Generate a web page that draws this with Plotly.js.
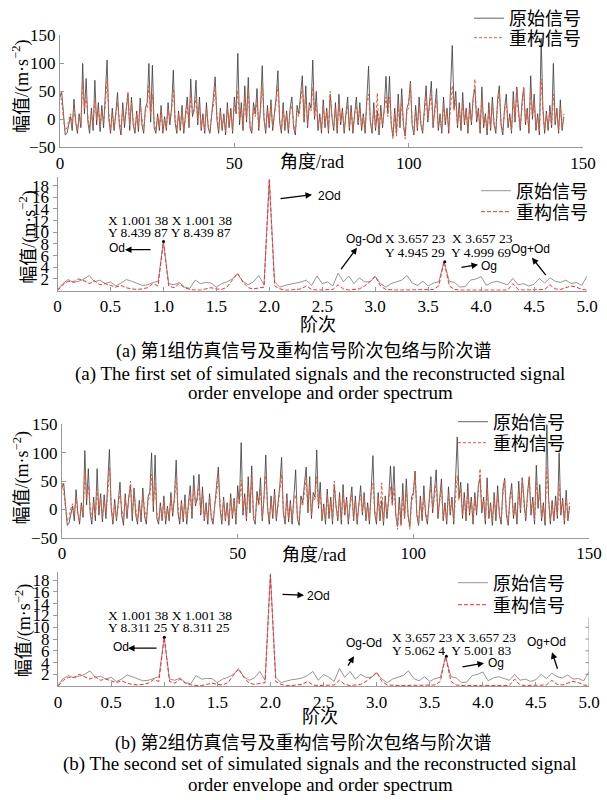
<!DOCTYPE html>
<html><head><meta charset="utf-8">
<script src="https://cdn.plot.ly/plotly-3.0.1.min.js"></script>
<style>html,body{margin:0;padding:0;background:#fff}</style>
</head><body>
<div id="chart" style="width:607px;height:800px"></div>
<script>
// ---------------- DATA ----------------
const angleStep = 0.5;   // rad between samples
const orderStep = 0.05;  // order resolution

const timeTicks = [0, 50, 100, 150];
const ampTicks = [-50, 0, 50, 100, 150];
const orderTickVals = [0, 0.5, 1, 1.5, 2, 2.5, 3, 3.5, 4, 4.5, 5];
const orderTickText = ['0', '0.5', '1.0', '1.5', '2.0', '2.5', '3.0', '3.5', '4.0', '4.5', '5.0'];
const specTicks = [2, 4, 6, 8, 10, 12, 14, 16, 18];

const seriesNames = ['原始信号', '重构信号'];

// set 1 - order envelope (original)
const origEnv1 = [
40,48,10,-28,-25,-10,5,-20,36,-5,
-25,10,-15,100,10,73,-5,-25,20,-20,
70,-10,30,-22,25,-15,40,106,0,-25,
20,-20,10,48,-10,-28,30,-15,20,45,
-20,40,-10,-25,15,-22,38,-10,-25,20,
30,100,-5,97,-15,-25,10,-20,25,-25,
5,-20,30,-10,20,88,-5,-25,15,-20,
25,-25,10,40,-15,72,5,20,70,-10,
40,-20,10,-25,30,-15,-25,15,40,76,
0,-25,20,-20,10,-28,30,-15,20,-25,
40,10,118,-10,30,-20,60,-5,75,-15,
-25,30,10,55,-20,20,96,0,-25,25,
-15,35,-20,10,40,87,-5,-25,30,-20,
15,-25,20,40,-15,-28,25,10,45,78,
-5,60,-15,30,20,106,0,50,-20,10,
-25,35,-15,20,-25,45,5,-20,30,-25,
45,-10,20,-25,10,40,-20,25,-25,15,
40,-10,30,-20,10,-25,50,95,-5,-25,
30,-20,15,-28,25,-15,20,77,10,77,
-10,-30,20,-25,45,-15,55,-10,-30,20,
30,68,-10,-28,25,-20,40,-10,-25,20,
60,-5,30,68,-15,20,55,-20,10,-25,
40,-10,20,-25,45,132,20,50,-15,30,
-20,48,-10,20,-25,30,-10,40,55,-5,
20,-25,58,-15,10,-28,30,-20,40,-10,
-25,35,60,-10,-28,20,45,-15,10,-25,
50,-5,58,10,-20,30,57,-10,20,-25,
78,0,45,-20,10,-28,145,20,-25,15,
-20,25,-15,100,-10,20,-25,35,-20,5
];
// set 1 - order envelope (reconstructed)
const reconEnv1 = [
48,30,0,-20,-15,0,10,-10,20,-5,
-20,5,-10,68,20,40,5,-15,10,-10,
35,0,20,-15,15,-5,25,72,10,-20,
10,-15,5,30,0,-20,20,-5,15,50,
-10,30,0,-20,10,-15,25,0,-20,15,
20,62,5,45,-5,-20,5,-15,15,-20,
0,-15,20,-5,15,55,5,-20,10,-15,
15,-20,5,25,-10,45,10,15,40,-5,
25,-15,5,-20,20,-10,-20,10,25,58,
10,-20,15,-15,5,-22,20,-10,15,-20,
25,10,52,0,20,-15,40,0,55,-10,
-20,20,5,35,-15,15,60,5,-20,15,
-10,25,-15,5,30,60,0,-20,20,-15,
10,-20,15,25,-10,-22,15,5,30,58,
0,40,-10,20,15,58,5,30,-15,5,
-20,25,-10,15,-20,50,5,-15,20,-20,
30,-5,15,-20,5,25,-15,15,-20,10,
25,-5,20,-15,5,-20,30,45,0,-20,
20,-15,47,-22,15,-10,15,40,5,40,
-5,-35,10,-30,25,-15,35,-10,-35,15,
20,65,-5,-25,15,-15,25,-5,-20,15,
40,0,20,45,-10,15,35,-15,5,-20,
25,-5,15,-20,30,60,15,35,-10,20,
-15,30,-5,15,-20,20,-5,30,72,0,
15,-20,40,-10,5,-22,20,-15,25,-5,
-20,25,50,-5,-22,15,30,-10,5,-20,
35,0,55,5,-15,20,57,-5,15,-20,
50,5,30,-15,5,-22,72,15,-20,10,
-15,15,-10,45,-5,15,-20,20,-15,10
];
// set 2 - order envelope (original)
const origEnv2 = [
38,46,8,-28,-24,-8,6,-20,35,-6,
-26,12,-14,104,8,72,-6,-26,22,-20,
72,-10,28,-22,26,-16,42,106,2,-26,
18,-20,12,48,-10,-28,28,-16,22,44,
-20,38,-10,-26,16,-22,38,-12,-26,22,
32,100,-4,96,-16,-26,12,-20,24,-26,
6,-20,30,-12,22,87,-6,-26,16,-22,
26,-26,12,42,-16,60,6,22,62,-10,
40,-20,12,-26,28,-16,-26,16,42,75,
2,-26,22,-20,12,-28,28,-16,20,-26,
42,10,118,-10,28,-20,58,-6,77,-16,
-26,32,10,56,-20,22,96,2,-26,24,
-16,36,-20,12,42,92,-6,-26,28,-22,
16,-26,22,70,-16,-28,24,12,44,75,
-6,58,-16,30,22,105,2,48,-20,10,
-26,36,-16,22,-26,44,6,-20,30,-26,
44,-10,22,-26,12,40,-20,24,-26,16,
42,-10,30,-20,12,-26,50,95,-6,-26,
30,-20,16,-28,24,-16,22,77,12,76,
-10,-30,22,-26,46,-16,54,-10,-30,22,
30,68,-10,-28,24,-20,42,-10,-26,22,
58,-6,30,70,-16,22,54,-20,12,-26,
40,-10,22,-26,44,128,20,48,-16,30,
-20,46,-10,22,-26,30,-10,42,55,-6,
22,-26,56,-16,12,-28,30,-20,42,-10,
-26,36,55,-10,-28,22,46,-16,12,-26,
50,-6,56,10,-20,30,58,-10,22,-26,
78,2,44,-20,12,-28,150,20,-26,16,
-20,24,-16,100,-10,20,-26,34,-20,6
];
// set 2 - order envelope (reconstructed)
const reconEnv2 = [
47,30,2,-20,-16,2,10,-10,22,-6,
-20,6,-10,68,20,42,6,-16,12,-10,
36,0,20,-16,16,-6,26,74,10,-20,
10,-16,6,30,2,-20,22,-6,16,50,
-10,30,2,-20,10,-16,26,0,-20,16,
22,62,6,46,-6,-20,6,-16,16,-20,
2,-16,22,-6,16,56,6,-20,10,-16,
16,-20,6,26,-10,40,10,16,40,-6,
26,-16,6,-20,22,-10,-20,10,26,58,
10,-20,16,-16,6,-22,22,-10,16,-20,
26,10,52,2,20,-16,40,0,56,-10,
-20,22,6,36,-16,16,60,6,-20,16,
-10,26,-16,6,30,62,0,-20,22,-16,
10,-20,16,26,-10,-22,16,6,30,57,
0,40,-10,22,16,58,6,30,-16,6,
-20,26,-10,16,-20,50,6,-16,22,-20,
30,-6,16,-20,6,26,-16,16,-20,10,
26,-6,22,-16,6,-20,30,46,0,-20,
22,-16,47,-22,16,-10,16,40,6,40,
-6,-35,10,-30,26,-16,36,-10,-35,16,
22,65,-6,-26,16,-16,26,-6,-20,16,
40,0,22,46,-10,16,36,-16,6,-20,
26,-6,16,-20,30,60,16,36,-10,22,
-16,30,-6,16,-20,22,-6,30,72,0,
16,-20,40,-10,6,-22,22,-16,26,-6,
-20,26,52,-6,-22,16,30,-10,6,-20,
36,0,56,6,-16,22,57,-6,16,-20,
50,6,30,-16,6,-22,74,16,-20,10,
-16,16,-10,44,-6,16,-20,20,-16,12
];

// set 1 - order spectrum
const origSpec1 = [
0.2,1.2,1.9,1.4,1.6,2.0,2.6,1.5,1.8,1.2,
1.5,0.8,1.3,1.9,1.6,1.2,0.9,1.0,1.4,1.6,
8.44,1.2,1.0,1.4,0.6,0.4,1.8,1.2,1.4,1.3,
0.6,1.2,1.5,2.0,2.8,1.6,1.0,1.5,2.6,1.0,
19.1,1.5,0.6,0.9,1.1,1.2,1.5,1.8,0.9,2.5,
1.2,1.5,0.8,3.0,1.5,2.5,1.2,2.2,1.5,1.5,
2.4,1.2,0.6,1.2,1.5,1.8,2.6,1.3,0.9,1.6,
0.8,1.3,1.5,4.95,1.6,1.4,0.6,0.7,1.8,2.0,
2.4,0.9,1.4,1.6,1.3,1.0,2.1,1.0,1.2,0.8,
1.1,2.1,1.3,2.2,1.6,1.4,1.8,1.2,1.4,0.9,
2.5
];
const reconSpec1 = [
0.0,1.0,1.6,1.5,2.0,1.7,1.2,1.7,1.0,1.2,
0.9,0.6,0.9,0.5,0.3,0.2,0.3,0.5,1.2,0.8,
8.44,0.8,0.5,1.2,0.5,0.2,0.1,0.1,0.3,0.5,
0.3,0.2,0.6,1.8,3.0,1.5,0.5,0.3,0.4,0.6,
18.9,0.8,0.3,0.1,0.1,0.2,0.3,0.8,0.2,0.1,
0.1,0.1,0.2,1.0,0.3,0.1,0.2,0.3,0.8,1.5,
2.5,0.8,0.2,0.1,0.1,0.1,0.1,0.1,0.1,0.1,
0.1,0.2,0.8,5.0,0.8,0.2,0.1,0.1,0.1,0.1,
0.1,0.1,0.1,0.1,0.1,0.1,1.2,0.2,0.1,0.1,
0.1,0.1,0.2,1.0,0.3,0.2,0.5,0.8,0.6,0.2,
0.1
];
// set 2 - order spectrum
const origSpec2 = [
0.2,1.3,1.8,1.4,1.7,2.0,2.6,1.5,1.7,1.2,
1.5,0.8,1.2,1.9,1.6,1.2,0.9,1.0,1.3,1.6,
8.31,1.2,1.0,1.4,0.6,0.4,1.8,1.2,1.3,1.3,
0.6,1.2,1.5,2.0,2.8,1.6,1.0,1.4,2.5,1.0,
19.1,1.5,0.6,0.9,1.1,1.2,1.4,1.8,2.5,1.0,
2.0,1.5,0.8,3.0,1.5,2.5,1.2,2.0,1.5,1.5,
2.2,1.2,0.6,1.2,1.5,1.8,2.6,1.3,0.9,1.6,
0.8,1.3,1.5,5.06,1.6,1.4,0.6,0.7,1.8,2.0,
2.4,0.9,1.4,1.6,1.3,1.0,2.0,1.0,1.2,0.8,
1.1,2.0,1.3,2.2,1.6,1.4,1.9,1.2,1.3,0.9,
2.5
];
const reconSpec2 = [
0.0,1.0,1.5,1.5,2.0,1.6,1.2,1.6,1.0,1.2,
0.9,0.6,0.9,0.5,0.3,0.2,0.3,0.5,1.1,0.8,
8.31,0.8,0.5,1.2,0.5,0.2,0.1,0.1,0.3,0.5,
0.3,0.2,0.6,1.8,3.0,1.5,0.5,0.3,0.4,0.6,
18.9,0.8,0.3,0.1,0.1,0.2,0.3,0.8,0.2,0.1,
0.1,0.1,0.2,1.0,0.3,0.1,0.2,0.3,0.8,1.5,
2.4,0.8,0.2,0.1,0.1,0.1,0.1,0.1,0.1,0.1,
0.1,0.2,0.8,5.0,0.8,0.2,0.1,0.1,0.1,0.1,
0.1,0.1,0.1,0.1,0.1,0.1,1.2,0.2,0.1,0.1,
0.1,0.1,0.2,1.0,0.3,0.2,0.5,0.8,0.6,0.2,
0.1
];

// data-tip peaks
const peakX = [1.00138, 3.65723];
const peakOrig1 = [8.43987, 4.94529];
const peakOrig2 = [8.31125, 5.0624];

const captionA_cn = '(a) 第1组仿真信号及重构信号阶次包络与阶次谱';
const captionA_en1 = '(a) The first set of simulated signals and the reconstructed signal';
const captionA_en2 = 'order envelope and order spectrum';
const captionB_cn = '(b) 第2组仿真信号及重构信号阶次包络与阶次谱';
const captionB_en1 = '(b) The second set of simulated signals and the reconstructed signal';
const captionB_en2 = 'order envelope and order spectrum';

// ---------------- BUILD ----------------
const W = 607, H = 800;
const px = v => v / W;
const py = v => 1 - v / H;
const angles = origEnv1.map((_, i) => i * angleStep);
const orders = origSpec1.map((_, i) => +(i * orderStep).toFixed(2));

const SERIF = 'Liberation Serif, Noto Sans CJK SC, serif';
const CJK = 'Noto Sans CJK SC, sans-serif';
const SANS = 'Liberation Sans, Arial, sans-serif';

const grayTime = '#3a3a3a', redTime = '#ee5a36';
const graySpec = '#7a7a7a', redSpec = '#ff2a2a';

const traces = [];
function timePanel(o, r, xa, ya, lgA, lgB) {
  traces.push({x: angles, y: o, xaxis: xa, yaxis: ya, type: 'scatter', mode: 'lines',
    name: seriesNames[0], legend: lgA, line: {color: grayTime, width: 0.8}});
  traces.push({x: angles, y: r, xaxis: xa, yaxis: ya, type: 'scatter', mode: 'lines',
    name: seriesNames[1], legend: lgB, line: {color: redTime, width: 1, dash: '3px,2px'}});
}
function specPanel(o, r, pk, xa, ya, lgA, lgB) {
  traces.push({x: orders, y: o, xaxis: xa, yaxis: ya, type: 'scatter', mode: 'lines',
    name: seriesNames[0], legend: lgA, line: {color: graySpec, width: 0.8}});
  traces.push({x: orders, y: r, xaxis: xa, yaxis: ya, type: 'scatter', mode: 'lines',
    name: seriesNames[1], legend: lgB, line: {color: redSpec, width: 1, dash: '4px,2px'}});
  traces.push({x: peakX, y: pk, xaxis: xa, yaxis: ya, type: 'scatter', mode: 'markers',
    showlegend: false, marker: {color: '#000', size: 3}});
}
timePanel(origEnv1, reconEnv1, 'x', 'y', 'legend', 'legend2');
specPanel(origSpec1, reconSpec1, peakOrig1, 'x2', 'y2', 'legend3', 'legend4');
timePanel(origEnv2, reconEnv2, 'x3', 'y3', 'legend5', 'legend6');
specPanel(origSpec2, reconSpec2, peakOrig2, 'x4', 'y4', 'legend7', 'legend8');

const tickFont = {family: SERIF, size: 17, color: '#000'};
function xAx(d, range, anchor, tv, tt) {
  const a = {domain: [px(d[0]), px(d[1])], range: range, anchor: anchor, tickvals: tv,
    ticks: 'inside', ticklen: 4, tickcolor: '#999', showline: true, linecolor: '#999', linewidth: 1,
    showgrid: false, zeroline: false, tickfont: tickFont, fixedrange: true};
  if (tt) a.ticktext = tt;
  return a;
}
function yAx(d, range, anchor, tv, ticks) {
  return {domain: [py(d[1]), py(d[0])], range: range, anchor: anchor, tickvals: tv,
    ticks: ticks, ticklen: 4, tickcolor: '#999', showline: true, linecolor: '#999', linewidth: 1,
    showgrid: false, zeroline: false, tickfont: tickFont, fixedrange: true};
}
// one legend entry per row: textLeft / row centre in pixels
function legendAt(textLeft, rowY) {
  return {x: px(textLeft - 39), y: py(rowY), xanchor: 'left', yanchor: 'middle', bgcolor: 'rgba(0,0,0,0)',
    font: {family: CJK, size: 18, color: '#000'}, tracegroupgap: 0, itemwidth: 30, borderwidth: 0};
}

const ann = [];
function txt(t, x, y, font, anchor) {
  ann.push({text: t, x: px(x), y: py(y), xref: 'paper', yref: 'paper', showarrow: false,
    xanchor: anchor || 'left', yanchor: 'middle', font: font});
}
function arrow(hx, hy, tx, ty) {
  ann.push({text: '', x: px(hx), y: py(hy), xref: 'paper', yref: 'paper', showarrow: true,
    ax: tx - hx, ay: ty - hy, arrowhead: 2, arrowsize: 1, arrowwidth: 1.3, arrowcolor: '#000', standoff: 0});
}
function yTitle(x, y) {
  ann.push({text: '幅值/(m·s<sup>−2</sup>)', x: px(x), y: py(y), xref: 'paper', yref: 'paper',
    showarrow: false, textangle: -90, xanchor: 'center', yanchor: 'middle',
    font: {family: SERIF, size: 18, color: '#000'}});
}
const tipFont = {family: SERIF, size: 13.5, color: '#000'};
const lblFont = {family: SANS, size: 12, color: '#000'};
const axTitleFont = {family: SERIF, size: 18, color: '#000'};
const capCN = {family: SERIF, size: 18, color: '#000'};
const capEN = {family: SERIF, size: 19, color: '#000'};

// panel titles
yTitle(21, 86); yTitle(28, 237); yTitle(22, 478); yTitle(24, 630);
txt('角度/rad', 312, 161, axTitleFont, 'center');
txt('阶次', 318, 324, axTitleFont, 'center');
txt('角度/rad', 314, 555, axTitleFont, 'center');
txt('阶次', 320, 717, axTitleFont, 'center');

// panel 2 annotations
txt('X 1.001 38 X 1.001 38', 106, 220, tipFont);
txt('Y 8.439 87 Y 8.439 87', 106, 232, tipFont);
txt('Od', 107, 247, lblFont); arrow(125, 249, 152, 249);
txt('2Od', 316, 195, lblFont); arrow(312, 194, 279, 198);
txt('Og-Od', 344, 238, lblFont); arrow(357, 247, 340, 270);
txt('X 3.657 23  X 3.657 23', 383, 238, tipFont);
txt('Y 4.945 29  Y 4.999 69', 383, 252, tipFont);
txt('Og+Od', 509, 248, lblFont); arrow(532, 257, 547, 276);
txt('Og', 479, 265, lblFont); arrow(478, 264, 460, 267);

// panel 4 annotations
txt('X 1.001 38 X 1.001 38', 106, 615, tipFont);
txt('Y 8.311 25 Y 8.311 25', 106, 627, tipFont);
txt('Od', 111, 647, lblFont); arrow(128, 648, 158, 648);
txt('2Od', 305, 596, lblFont); arrow(304, 595, 281, 594);
txt('Og-Od', 344, 643, lblFont); arrow(354, 656, 347, 667);
txt('X 3.657 23 X 3.657 23', 390, 637, tipFont);
txt('Y 5.062 4  Y 5.001 83', 390, 650, tipFont);
txt('Og+Od', 525, 642, lblFont); arrow(552, 652, 558, 670);
txt('Og', 486, 663, lblFont); arrow(484, 663, 461, 667);

// captions
txt(captionA_cn, 303, 351, capCN, 'center');
txt(captionA_en1, 320, 373, capEN, 'center');
txt(captionA_en2, 320, 392, capEN, 'center');
txt(captionB_cn, 303, 743, capCN, 'center');
txt(captionB_en1, 320, 764, capEN, 'center');
txt(captionB_en2, 320, 784, capEN, 'center');

// right-side frame of panel 4 (below its legend)
const shapes = [{type: 'line', xref: 'x4', yref: 'y4', x0: 5, x1: 5, y0: 0, y1: 11.7,
  line: {color: '#999', width: 1}}];
[2, 4, 6, 8, 10].forEach(v => shapes.push({type: 'line', xref: 'x4', yref: 'y4',
  x0: 4.965, x1: 5, y0: v, y1: v, line: {color: '#999', width: 1}}));

const layout = {
  width: W, height: H, margin: {l: 0, r: 0, t: 0, b: 0},
  paper_bgcolor: '#fff', plot_bgcolor: 'rgba(0,0,0,0)', showlegend: true,
  xaxis: xAx([60, 583], [0, 150], 'y', timeTicks),
  yaxis: yAx([34.5, 146.5], [-50, 150], 'x', ampTicks, 'inside'),
  xaxis2: xAx([57.5, 587], [0, 5], 'y2', orderTickVals, orderTickText),
  yaxis2: yAx([176.7, 290], [0, 19.4], 'x2', specTicks, 'outside'),
  xaxis3: xAx([62, 589], [0, 150], 'y3', timeTicks),
  yaxis3: yAx([424, 537.5], [-50, 150], 'x3', ampTicks, 'inside'),
  xaxis4: xAx([58, 589], [0, 5], 'y4', orderTickVals, orderTickText),
  yaxis4: yAx([571.7, 686], [0, 19.4], 'x4', specTicks, 'outside'),
  legend: legendAt(508, 18),
  legend2: legendAt(508, 38),
  legend3: legendAt(515, 191),
  legend4: legendAt(515, 212),
  legend5: legendAt(492, 422),
  legend6: legendAt(492, 443),
  legend7: legendAt(492, 583),
  legend8: legendAt(492, 605),
  annotations: ann,
  shapes: shapes
};
Plotly.newPlot('chart', traces, layout, {staticPlot: true, displayModeBar: false});
</script>
</body></html>
